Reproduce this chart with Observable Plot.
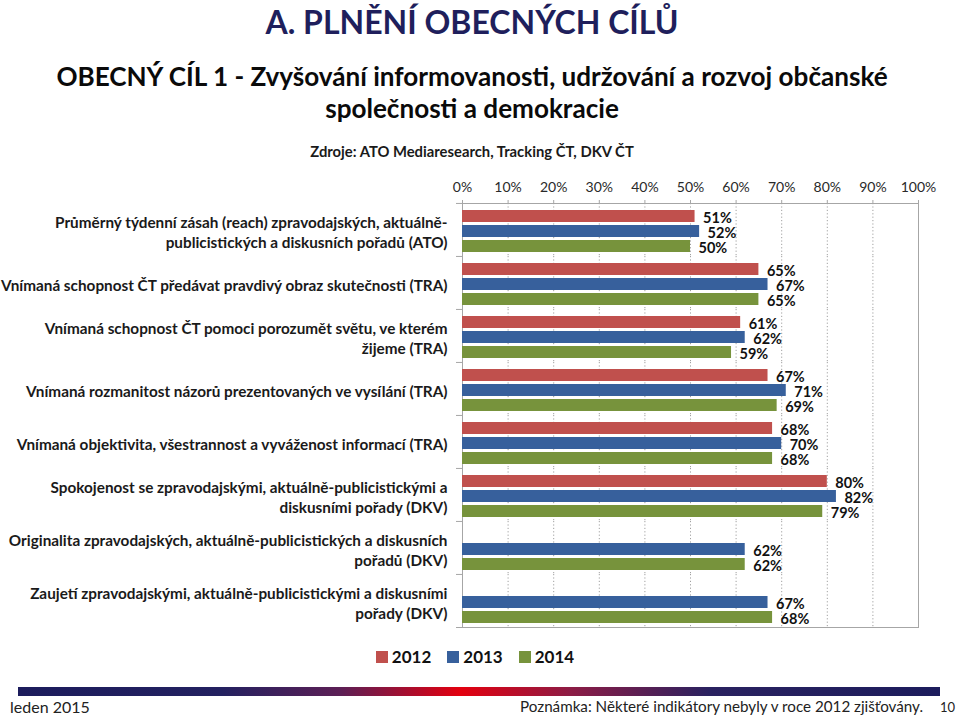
<!DOCTYPE html>
<html>
<head>
<meta charset="utf-8">
<script src="https://cdn.jsdelivr.net/npm/d3@7"></script>
<script src="https://cdn.jsdelivr.net/npm/@observablehq/plot@0.6"></script>
<style>
  html, body { margin: 0; padding: 0; background: #fff; }
  #page { position: relative; width: 960px; height: 717px; overflow: hidden; font-family: Lato, "Open Sans", sans-serif; color: #111; }
  .abs { position: absolute; left: 0; width: 944px; text-align: center; white-space: nowrap; }
  #title { top: 2px; font-size: 32px; font-weight: 700; color: #1f1f5c; }
  #subtitle { top: 60px; font-size: 26.1px; font-weight: 700; line-height: 32px; color: #0a0a0a; }
  #source { top: 142px; font-size: 14.8px; font-weight: 700; color: #1a1a1a; }
  #chart { position: absolute; left: 0; top: 165px; }
  #legend { position: absolute; top: 646px; left: 0; width: 950px; display: flex; justify-content: center; gap: 16px; font-size: 17px; font-weight: 700; }
  #legend .item { display: flex; align-items: center; gap: 4px; }
  #legend .sw { width: 12px; height: 12px; display: inline-block; }
  #bar { position: absolute; top: 687px; left: 18px; width: 922px; height: 9px;
    background: linear-gradient(to right, #1c1c5c 0%, #232160 22%, #5c1f55 35%, #e3000f 48%, #8c1c45 60%, #2a2260 75%, #1c1c5c 100%); }
  #foot-left { position: absolute; top: 697px; left: 10px; font-size: 16px; color: #222; }
  #foot-right { position: absolute; top: 697px; right: 37px; font-size: 15.2px; color: #222; }
  #foot-page { position: absolute; top: 699px; left: 940px; font-size: 13px; color: #222; }
</style>
</head>
<body>
<div id="page">
  <div id="title" class="abs">A. PLNĚNÍ OBECNÝCH CÍLŮ</div>
  <div id="subtitle" class="abs">OBECNÝ CÍL 1 - Zvyšování informovanosti, udržování a rozvoj občanské<br>společnosti a demokracie</div>
  <div id="source" class="abs">Zdroje: ATO Mediaresearch, Tracking ČT, DKV ČT</div>
  <div id="chart"></div>
  <div id="legend"></div>
  <div id="bar"></div>
  <div id="foot-left">leden 2015</div>
  <div id="foot-right">Poznámka: Některé indikátory nebyly v roce 2012 zjišťovány.</div>
  <div id="foot-page">10</div>
</div>
<script>
const categories = [
  "Průměrný týdenní zásah (reach) zpravodajských, aktuálně-\npublicistických a diskusních pořadů (ATO)",
  "Vnímaná schopnost ČT předávat pravdivý obraz skutečnosti (TRA)",
  "Vnímaná schopnost ČT pomoci porozumět světu, ve kterém\nžijeme (TRA)",
  "Vnímaná rozmanitost názorů prezentovaných ve vysílání (TRA)",
  "Vnímaná objektivita, všestrannost a vyváženost informací (TRA)",
  "Spokojenost se zpravodajskými, aktuálně-publicistickými a\ndiskusními pořady (DKV)",
  "Originalita zpravodajských, aktuálně-publicistických a diskusních\npořadů (DKV)",
  "Zaujetí zpravodajskými, aktuálně-publicistickými a diskusními\npořady (DKV)"
];
const years = ["2012", "2013", "2014"];
const values2012 = [51, 65, 61, 67, 68, 80, null, null];
const values2013 = [52, 67, 62, 71, 70, 82, 62, 67];
const values2014 = [50, 65, 59, 69, 68, 79, 62, 68];
const colors = ["#c0504d", "#37609c", "#77933c"];
const xTicks = [0, 10, 20, 30, 40, 50, 60, 70, 80, 90, 100];

const series = [values2012, values2013, values2014];
const data = [];
categories.forEach((cat, i) => {
  years.forEach((yr, j) => {
    const v = series[j][i];
    if (v != null) data.push({cat, year: yr, value: v});
  });
});

const width = 960, height = 470;
const marginTop = 37, marginBottom = 8, marginLeft = 462, marginRight = 42;
const facetStep = (height - marginTop - marginBottom) / categories.length;
const grid = "#a6a6a6";

const chart = Plot.plot({
  width, height, marginTop, marginBottom, marginLeft, marginRight,
  style: {fontFamily: "Lato, 'Open Sans', sans-serif", background: "#fff", overflow: "visible"},
  x: {domain: [0, 100], axis: null},
  y: {domain: years, paddingInner: 0.2, paddingOuter: 0.27, align: 0.62, axis: null},
  fy: {domain: categories, padding: 0, axis: null},
  color: {domain: years, range: colors},
  marks: [
    Plot.gridX({ticks: xTicks.filter(t => t > 0 && t < 100), stroke: "#a0a0a0", strokeOpacity: 1, strokeDasharray: "1.2,2.2"}),
    Plot.ruleX([0, 100], {stroke: grid}),
    Plot.frame({anchor: "top", facetAnchor: "top", stroke: grid}),
    Plot.frame({anchor: "bottom", facetAnchor: "bottom", stroke: grid, insetLeft: -6}),
    Plot.axisFy({anchor: "left", tickSize: 6, fill: "none", stroke: grid, dy: -facetStep / 2, label: null}),
    Plot.axisX({anchor: "top", ticks: xTicks, tickFormat: d => d + "%", tickSize: 4, tickPadding: 8, fontSize: 14, stroke: grid, fill: "#2a2a2a", label: null}),
    Plot.barX(data, {x: "value", y: "year", fy: "cat", fill: "year"}),
    Plot.text(data, {x: "value", y: "year", fy: "cat", text: d => d.value + "%", textAnchor: "start", dx: 8, dy: 1.5, fontSize: 14.5, fontWeight: "bold", fill: "#111"}),
    Plot.text(categories, {fy: d => d, text: d => d, frameAnchor: "left", textAnchor: "end", dx: -15, dy: 1.5, lineHeight: 1.3, fontSize: 15.3, fontWeight: "bold", fill: "#1a1a1a", ariaLabel: "category-label"})
  ]
});
document.getElementById("chart").appendChild(chart);

// center the lines of multi-line category labels within their (right-aligned) block
chart.querySelectorAll('g[aria-label="category-label"] text').forEach(t => {
  const spans = t.querySelectorAll("tspan");
  if (spans.length < 2) return;
  let maxW = 0;
  spans.forEach(s => { maxW = Math.max(maxW, s.getComputedTextLength()); });
  t.setAttribute("text-anchor", "middle");
  spans.forEach(s => s.setAttribute("x", -maxW / 2));
});

const legend = document.getElementById("legend");
years.forEach((y, i) => {
  const item = document.createElement("span");
  item.className = "item";
  item.innerHTML = `<span class="sw" style="background:${colors[i]}"></span>${y}`;
  legend.appendChild(item);
});
</script>
</body>
</html>
